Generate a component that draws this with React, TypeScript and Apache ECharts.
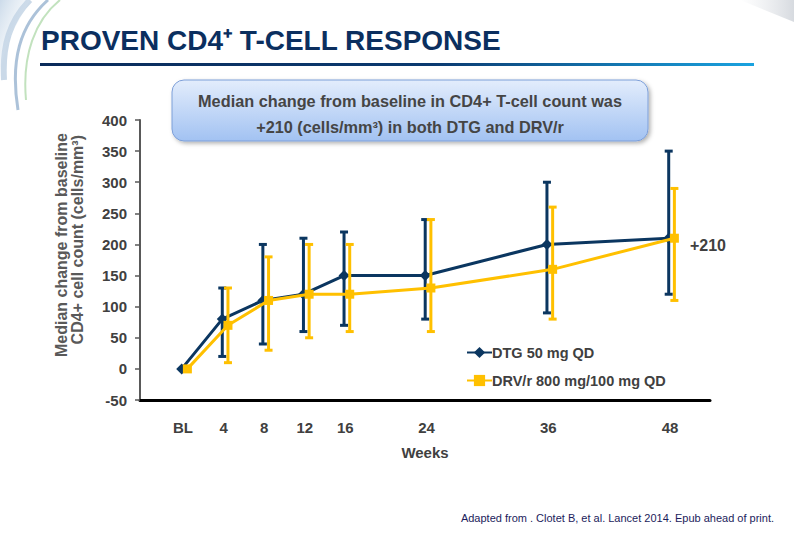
import React, { useEffect, useRef } from "react";
import * as echarts from "echarts";

const weeks = [0, 4, 8, 12, 16, 24, 36, 48];
const weekLabels = ["BL", "4", "8", "12", "16", "24", "36", "48"];

const dtgMedian = [0, 80, 110, 120, 150, 150, 200, 210];
const dtgLow = [null, 20, 40, 60, 70, 80, 90, 120];
const dtgHigh = [null, 130, 200, 210, 220, 240, 300, 350];

const drvMedian = [0, 70, 110, 120, 120, 130, 160, 210];
const drvLow = [null, 10, 30, 50, 60, 60, 80, 110];
const drvHigh = [null, 130, 180, 200, 200, 240, 260, 290];

const seriesNames = ["DTG 50 mg QD", "DRV/r 800 mg/100 mg QD"];
const yMin = -50;
const yMax = 400;
const yInterval = 50;

const NAVY = "#0b3660";
const GOLD = "#ffc000";
const GRAY_TEXT = "#404040";
const FONT = "'Liberation Sans', Arial, Helvetica, sans-serif";

// small horizontal dodge (in weeks) so both series stay visible
const DTG_SHIFT = -0.13;
const DRV_SHIFT = 0.43;

function errData(low: (number | null)[], high: (number | null)[], shift: number) {
  const out: number[][] = [];
  weeks.forEach((w, i) => {
    const lo = low[i];
    const hi = high[i];
    if (lo != null && hi != null) out.push([w + shift, lo, hi]);
  });
  return out;
}

function errRender(color: string) {
  return (params: any, api: any) => {
    const x = api.value(0);
    const p1 = api.coord([x, api.value(1)]);
    const p2 = api.coord([x, api.value(2)]);
    const hw = 4;
    const st = { stroke: color, lineWidth: 3 };
    return {
      type: "group",
      children: [
        { type: "line", shape: { x1: p1[0], y1: p1[1], x2: p2[0], y2: p2[1] }, style: st },
        { type: "line", shape: { x1: p1[0] - hw, y1: p1[1], x2: p1[0] + hw, y2: p1[1] }, style: st },
        { type: "line", shape: { x1: p2[0] - hw, y1: p2[1], x2: p2[0] + hw, y2: p2[1] }, style: st },
      ],
    };
  };
}

export default function App() {
  const ref = useRef<HTMLDivElement>(null);

  useEffect(() => {
    if (!ref.current) return;
    const chart = echarts.init(ref.current, null, { renderer: "svg" });

    const dtgLine = weeks.map((w, i) => [w + DTG_SHIFT, dtgMedian[i]]);
    const drvLine: any[] = weeks.map((w, i) => [w + DRV_SHIFT, drvMedian[i]]);
    const last = drvLine.length - 1;
    drvLine[last] = {
      value: drvLine[last],
      label: {
        show: true,
        position: "right",
        distance: 11,
        offset: [0, 7],
        formatter: (p: any) => "+" + p.value[1],
        color: GRAY_TEXT,
        fontWeight: "bold",
        fontSize: 16,
        fontFamily: FONT,
      },
    };

    const option: any = {
      animation: false,
      backgroundColor: "#ffffff",
      textStyle: { fontFamily: FONT },
      grid: {
        left: 140,
        top: 120,
        width: 570,
        height: 280,
        containLabel: false,
        outerBoundsMode: "none",
      },
      xAxis: {
        type: "value",
        min: -4.24,
        max: 51.94,
        name: "Weeks",
        nameLocation: "middle",
        nameGap: 45,
        nameTextStyle: { color: GRAY_TEXT, fontWeight: "bold", fontSize: 15, fontFamily: FONT },
        axisLine: { show: true, onZero: false, lineStyle: { color: "#000000", width: 3 } },
        axisTick: { show: false },
        splitLine: { show: false },
        axisLabel: {
          customValues: weeks,
          formatter: (v: number) => {
            const i = weeks.indexOf(v);
            return i >= 0 ? weekLabels[i] : "";
          },
          color: GRAY_TEXT,
          fontWeight: "bold",
          fontSize: 15,
          fontFamily: FONT,
          margin: 20,
        },
      },
      yAxis: {
        type: "value",
        min: yMin,
        max: yMax,
        interval: yInterval,
        axisLine: { show: true, onZero: false, lineStyle: { color: "#595959", width: 2 } },
        axisTick: { show: true, length: 5, lineStyle: { color: "#595959", width: 1.5 } },
        splitLine: { show: false },
        axisLabel: {
          color: GRAY_TEXT,
          fontWeight: "bold",
          fontSize: 15,
          fontFamily: FONT,
          margin: 13,
        },
      },
      legend: {
        data: seriesNames,
        orient: "vertical",
        left: 461,
        top: 340,
        itemWidth: 25,
        itemHeight: 14,
        itemGap: 13,
        textStyle: {
          color: GRAY_TEXT,
          fontWeight: "bold",
          fontSize: 14.5,
          fontFamily: FONT,
          padding: [0, 0, 0, -5],
        },
      },
      series: [
        {
          name: "dtgErr",
          type: "custom",
          renderItem: errRender(NAVY),
          encode: { x: 0, y: [1, 2] },
          data: errData(dtgLow, dtgHigh, DTG_SHIFT),
          z: 2,
        },
        {
          name: seriesNames[0],
          type: "line",
          data: dtgLine,
          symbol: "diamond",
          symbolSize: 11,
          itemStyle: { color: NAVY },
          lineStyle: { color: NAVY, width: 3 },
          z: 3,
        },
        {
          name: "drvErr",
          type: "custom",
          renderItem: errRender(GOLD),
          encode: { x: 0, y: [1, 2] },
          data: errData(drvLow, drvHigh, DRV_SHIFT),
          z: 4,
        },
        {
          name: seriesNames[1],
          type: "line",
          data: drvLine,
          symbol: "rect",
          symbolSize: 9,
          itemStyle: { color: GOLD },
          lineStyle: { color: GOLD, width: 3 },
          z: 5,
        },
      ],
      graphic: [
        // decorative swirl top-left
        {
          type: "bezierCurve",
          shape: { x1: 48, y1: 0, cpx1: 20, cpy1: 25, cpx2: 10, cpy2: 60, x2: 18, y2: 110 },
          style: { stroke: "rgba(70,120,170,0.45)", lineWidth: 3, fill: null },
          silent: true,
        },
        {
          type: "bezierCurve",
          shape: { x1: 60, y1: 0, cpx1: 35, cpy1: 20, cpx2: 22, cpy2: 55, x2: 26, y2: 100 },
          style: { stroke: "rgba(120,190,110,0.45)", lineWidth: 2, fill: null },
          silent: true,
        },
        {
          type: "bezierCurve",
          shape: { x1: 30, y1: 0, cpx1: 10, cpy1: 20, cpx2: 2, cpy2: 45, x2: 4, y2: 80 },
          style: { stroke: "rgba(150,180,210,0.5)", lineWidth: 6, fill: null },
          silent: true,
        },
        {
          type: "polygon",
          shape: { points: [[0, 0], [30, 0], [8, 40], [0, 70]] },
          style: {
            fill: new echarts.graphic.LinearGradient(0, 0, 1, 1, [
              { offset: 0, color: "rgba(170,195,220,0.6)" },
              { offset: 1, color: "rgba(255,255,255,0)" },
            ]),
          },
          silent: true,
        },
        // light gray corner top-right
        {
          type: "polygon",
          shape: { points: [[740, 0], [794, 0], [794, 22]] },
          style: {
            fill: new echarts.graphic.LinearGradient(0, 0, 1, 0, [
              { offset: 0, color: "rgba(225,228,232,0)" },
              { offset: 1, color: "rgba(210,214,220,0.9)" },
            ]),
          },
          silent: true,
        },
        // title
        {
          type: "text",
          x: 41,
          y: 40,
          style: {
            text: "PROVEN CD4\u207A T-CELL RESPONSE",
            fill: "#0b2f5f",
            font: `bold 28px ${FONT}`,
            textAlign: "left",
            textVerticalAlign: "middle",
          },
        },
        // underline
        {
          type: "rect",
          shape: { x: 40, y: 63, width: 714, height: 3 },
          style: {
            fill: new echarts.graphic.LinearGradient(0, 0, 1, 0, [
              { offset: 0, color: "#0a2b5a" },
              { offset: 0.55, color: "#0b3a70" },
              { offset: 1, color: "#1aa3e0" },
            ]),
          },
        },
        // callout box
        {
          type: "rect",
          shape: { x: 172, y: 80, width: 476, height: 61, r: 12 },
          style: {
            fill: new echarts.graphic.LinearGradient(0, 0, 0, 1, [
              { offset: 0, color: "#e3edfc" },
              { offset: 1, color: "#a2c2f2" },
            ]),
            stroke: "#7d9fd8",
            lineWidth: 1,
            shadowBlur: 4,
            shadowOffsetX: 2,
            shadowOffsetY: 2,
            shadowColor: "rgba(0,0,0,0.3)",
          },
        },
        {
          type: "text",
          x: 410,
          y: 101,
          style: {
            text: "Median change from baseline in CD4+ T-cell count was",
            fill: "#454545",
            font: `bold 16.3px ${FONT}`,
            textAlign: "center",
            textVerticalAlign: "middle",
          },
        },
        {
          type: "text",
          x: 410,
          y: 127,
          style: {
            text: "+210 (cells/mm\u00B3) in both DTG and DRV/r",
            fill: "#454545",
            font: `bold 16.3px ${FONT}`,
            textAlign: "center",
            textVerticalAlign: "middle",
          },
        },
        // y-axis title (two lines, rotated)
        {
          type: "text",
          x: 61,
          y: 133,
          rotation: Math.PI / 2,
          style: {
            text: "Median change from baseline",
            fill: "#595959",
            font: `bold 16px ${FONT}`,
            textAlign: "right",
            textVerticalAlign: "middle",
          },
        },
        {
          type: "text",
          x: 77,
          y: 135,
          rotation: Math.PI / 2,
          style: {
            text: "CD4+ cell count (cells/mm\u00B3)",
            fill: "#595959",
            font: `bold 16px ${FONT}`,
            textAlign: "right",
            textVerticalAlign: "middle",
          },
        },
        // footer
        {
          type: "text",
          x: 774,
          y: 518,
          style: {
            text: "Adapted from . Clotet B, et al. Lancet 2014. Epub ahead of print.",
            fill: "#1c1c5c",
            font: `11px ${FONT}`,
            textAlign: "right",
            textVerticalAlign: "middle",
          },
        },
      ],
    };

    chart.setOption(option);
    return () => chart.dispose();
  }, []);

  return (
    <div
      ref={ref}
      style={{ position: "absolute", left: 0, top: 0, width: 794, height: 533, background: "#fff" }}
    />
  );
}
